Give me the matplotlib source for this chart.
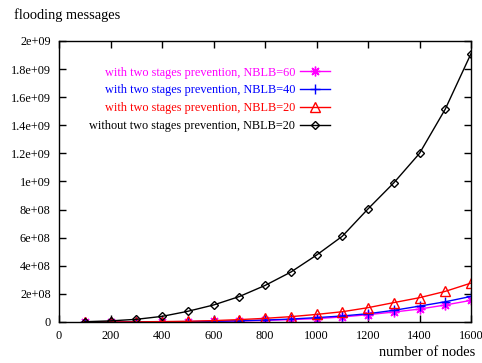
import matplotlib
matplotlib.use("Agg")
import matplotlib.pyplot as plt

nodes = [100, 200, 300, 400, 500, 600, 700, 800, 900, 1000, 1100, 1200, 1300, 1400, 1500, 1600]

nblb60 = [1e5, 3e5, 7e5, 1.2e6, 2.5e6, 4e6, 7e6, 1.1e7, 1.7e7, 2.4e7, 3.6e7, 5.2e7, 7.1e7, 9.2e7, 1.21e8, 1.54e8]
nblb40 = [1e5, 3e5, 8e5, 1.5e6, 3e6, 5e6, 9e6, 1.4e7, 2.1e7, 3.1e7, 4.3e7, 5.9e7, 8.3e7, 1.13e8, 1.44e8, 1.82e8]
nblb20 = [1e5, 5e5, 1e6, 3e6, 5e6, 1e7, 1.7e7, 2.6e7, 3.8e7, 5.4e7, 7.3e7, 1.02e8, 1.38e8, 1.73e8, 2.18e8, 2.77e8]
no_prevention = [2e6, 8e6, 1.9e7, 4e7, 7.6e7, 1.21e8, 1.81e8, 2.6e8, 3.55e8, 4.76e8, 6.1e8, 8.05e8, 9.9e8, 1.2e9, 1.515e9, 1.91e9]

labels = [
    "with two stages prevention, NBLB=60",
    "with two stages prevention, NBLB=40",
    "with two stages prevention, NBLB=20",
    "without two stages prevention, NBLB=20",
]
colors = ["#ff00ff", "#0000ff", "#ff0000", "#000000"]

x_ticks = [0, 200, 400, 600, 800, 1000, 1200, 1400, 1600]
y_ticks = [0, 2e8, 4e8, 6e8, 8e8, 1e9, 1.2e9, 1.4e9, 1.6e9, 1.8e9, 2e9]

plt.rcParams["font.family"] = ["Liberation Serif", "DejaVu Serif"]
plt.rcParams["font.size"] = 8.8

fig = plt.figure(figsize=(4.82, 3.63), dpi=100)
ax = fig.add_axes([59 / 482, 1 - 322 / 363, 412 / 482, 281 / 363])

# gnuplot-ish point types: asterisk, plus, open triangle, open diamond
styles = [
    dict(marker=(8, 2, 0), markersize=7, mew=1.0),
    dict(marker="+", markersize=7, mew=1.0),
    dict(marker="^", markersize=7.5, mfc="none", mew=1.0),
    dict(marker="D", markersize=4.0, mfc="none", mew=1.0),
]
series = [nblb60, nblb40, nblb20, no_prevention]
for ys, lab, c, st in zip(series, labels, colors, styles):
    ax.plot(nodes, ys, color=c, lw=1.0, label=lab, **st)

ax.set_xlim(0, 1600)
ax.set_ylim(0, 2e9)
ax.set_xticks(x_ticks)
ax.set_yticks(y_ticks)
ax.set_yticklabels(["%g" % v for v in y_ticks])
ax.tick_params(direction="in", length=5, width=1, top=True, right=True, pad=6,
               labelsize=8.8)
for s in ax.spines.values():
    s.set_linewidth(1.0)

leg = ax.legend(loc="upper right", bbox_to_anchor=(0.658, 0.909), frameon=False,
                markerfirst=False, handlelength=2.45, handletextpad=0.4,
                labelspacing=0.47, borderpad=0, borderaxespad=0, fontsize=8.8)
for t, c in zip(leg.get_texts(), colors):
    t.set_color(c)

fig.text(14 / 482, 1 - 15 / 363, "flooding messages", va="center", ha="left", fontsize=10.4)
fig.text(475 / 482, 1 - 352 / 363, "number of nodes", va="center", ha="right", fontsize=10.4)

fig.savefig("out.png", dpi=100)
